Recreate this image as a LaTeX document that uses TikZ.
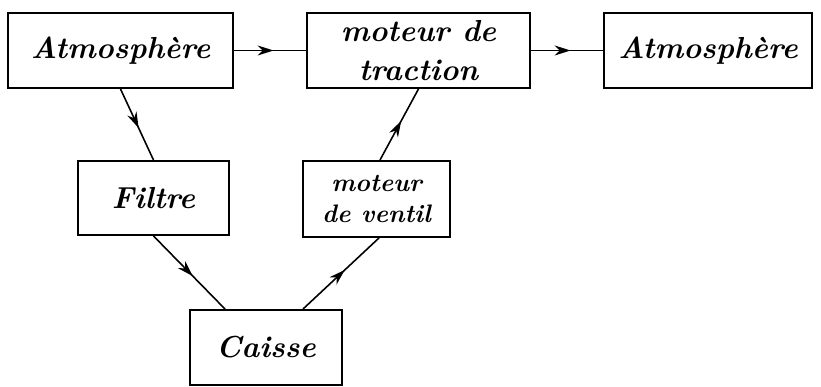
\documentclass[tikz,border=0pt]{standalone}
\usepackage{tikz}
\usetikzlibrary{positioning, arrows.meta, calc, decorations.markings}

\begin{document}
\begin{tikzpicture}[
    block/.style={rectangle, draw, line width=1.1pt, align=center, font=\LARGE\bfseries\itshape,
                  minimum height=1.5cm, inner sep=1pt},
    flow/.style={line width=0.9pt, postaction={decorate},
                 decoration={markings, mark=at position 0.55 with {\arrow{Stealth[length=3.2mm, width=2mm]}}}},
]

\useasboundingbox (0, 0) rectangle (16.42, 7.74);

% Top row
\node[block, minimum width=4.5cm] (atmoIn) at (2.41, 6.73) {Atmosphère};
\node[block, minimum width=4.46cm] (traction) at (8.37, 6.73) {moteur de\\traction};
\node[block, minimum width=4.16cm] (atmoOut) at (14.16, 6.73) {Atmosphère};

% Middle row
\node[block, minimum width=3.02cm, minimum height=1.48cm] (filtre) at (3.07, 3.78) {Filtre};
\node[block, minimum width=2.94cm, minimum height=1.52cm, font=\Large\bfseries\itshape] (ventil) at (7.53, 3.76) {moteur\\de ventil};

% Bottom
\node[block, minimum width=3.04cm] (caisse) at (5.32, 0.79) {Caisse};

% Arrows
\draw[flow] (atmoIn) -- (traction);
\draw[flow] (traction) -- (atmoOut);
\draw[flow] (atmoIn.south) -- (filtre.north);
\draw[flow] (filtre.south) -- ([xshift=-0.82cm]caisse.north);
\draw[flow] ([xshift=0.74cm]caisse.north) -- ([xshift=0.05cm]ventil.south);
\draw[flow] ([xshift=0.07cm]ventil.north) -- (traction.south);

\end{tikzpicture}
\end{document}
